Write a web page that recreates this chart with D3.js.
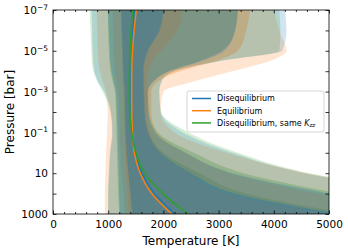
<!DOCTYPE html>
<html>
<head>
<meta charset="utf-8">
<script src="https://cdn.jsdelivr.net/npm/d3@7"></script>
<style>
    body { margin: 0; background: #fff; }
    svg text { font-family: 'DejaVu Sans', sans-serif; fill: #000; }
</style>
</head>
<body>
<svg id="chart" width="348" height="251"></svg>
<script>
// pressure levels [bar] shared by all profiles
var pressures = [1e-7, 1e-6, 1e-5, 3.16e-5, 1e-4, 3.16e-4, 1e-3, 1e-2, 1e-1, 1, 10, 100, 1000];

// Disequilibrium
var diseqMedian = [1470, 1450, 1430, 1425, 1420, 1418, 1418, 1422, 1440, 1490, 1610, 1840, 2210];
var diseqLo1 = [1240, 1250, 1265, 1270, 1280, 1290, 1300, 1310, 1320, 1340, 1370, 1400, 1430];
var diseqHi1 = [2000, 1930, 1720, 1660, 1640, 1640, 1650, 1660, 1720, 1950, 2500, 3300, 5200];
var diseqLo2 = [1000, 1010, 1030, 1040, 1060, 1100, 1140, 1160, 1170, 1180, 1190, 1200, 1210];
var diseqHi2 = [3350, 3300, 3100, 2700, 2100, 1820, 1720, 1730, 1850, 2400, 3250, 5000, 7000];
var diseqLo3 = [700, 710, 720, 730, 750, 820, 930, 1050, 1070, 1030, 1010, 1000, 1000];
var diseqHi3 = [4200, 4230, 4150, 3050, 2200, 1970, 1930, 1950, 2350, 3250, 4550, 6800, 9000];

// Equilibrium
var equilMedian = [1510, 1470, 1440, 1432, 1428, 1425, 1425, 1428, 1440, 1475, 1580, 1790, 2150];
var equilLo1 = [1250, 1255, 1265, 1270, 1275, 1285, 1295, 1300, 1300, 1310, 1330, 1350, 1380];
var equilHi1 = [2350, 2250, 1950, 1800, 1720, 1700, 1700, 1700, 1760, 1950, 2450, 3150, 5000];
var equilLo2 = [1080, 1090, 1100, 1110, 1120, 1150, 1180, 1200, 1210, 1220, 1240, 1280, 1300];
var equilHi2 = [3570, 3500, 3350, 2950, 2300, 1900, 1780, 1780, 1880, 2400, 3200, 4800, 6800];
var equilLo3 = [790, 800, 810, 820, 850, 900, 960, 990, 980, 960, 950, 940, 940];
var equilHi3 = [4000, 4100, 4230, 3930, 3250, 2550, 2000, 1950, 2200, 3150, 4600, 6800, 9000];

// Disequilibrium, same Kzz
var kzzMedian = [1440, 1415, 1395, 1388, 1383, 1380, 1380, 1390, 1425, 1500, 1660, 1990, 2450];
var kzzLo1 = [1230, 1240, 1250, 1255, 1260, 1270, 1280, 1290, 1300, 1320, 1360, 1410, 1460];
var kzzHi1 = [2000, 1900, 1700, 1640, 1620, 1620, 1630, 1650, 1730, 2000, 2650, 3500, 5400];
var kzzLo2 = [990, 1000, 1010, 1020, 1040, 1080, 1120, 1140, 1150, 1160, 1170, 1180, 1200];
var kzzHi2 = [3350, 3300, 3050, 2650, 2100, 1820, 1720, 1740, 1900, 2550, 3450, 5200, 7200];
var kzzLo3 = [665, 680, 695, 705, 730, 800, 900, 1040, 1080, 1040, 1020, 1000, 1000];
var kzzHi3 = [4100, 4120, 4100, 3000, 2180, 1960, 1920, 1960, 2450, 3350, 4650, 7000, 9000];

var xMajorTicks = [0, 1000, 2000, 3000, 4000, 5000];
var yDecades = [1e-7, 1e-6, 1e-5, 1e-4, 1e-3, 1e-2, 1e-1, 1, 10, 100, 1000];
var yTickLabels = { '1e-7': ['10', '\u22127'], '0.00001': ['10', '\u22125'], '0.001': ['10', '\u22123'],
    '0.1': ['10', '\u22121'], '10': ['10', ''], '1000': ['1000', ''] };

var models = [
    { name: 'Disequilibrium', color: '#1f77b4', median: diseqMedian,
      bands: [[diseqLo3, diseqHi3], [diseqLo2, diseqHi2], [diseqLo1, diseqHi1]] },
    { name: 'Equilibrium', color: '#ff7f0e', median: equilMedian,
      bands: [[equilLo3, equilHi3], [equilLo2, equilHi2], [equilLo1, equilHi1]] },
    { name: 'Disequilibrium, same ', color: '#2ca02c', median: kzzMedian, kzz: true,
      bands: [[kzzLo3, kzzHi3], [kzzLo2, kzzHi2], [kzzLo1, kzzHi1]] }
];

var plot = { left: 53, right: 329, top: 10, bottom: 214 };
var bandAlpha = [0.2, 0.3, 0.4];

var svg = d3.select('#chart');

var x = d3.scaleLinear().domain([0, 5000]).range([plot.left, plot.right]);
var y = d3.scaleLog().domain([1e-7, 1000]).range([plot.top, plot.bottom]);

svg.append('defs').append('clipPath')
    .attr('id', 'plot-clip')
    .append('rect')
    .attr('x', plot.left)
    .attr('y', plot.top)
    .attr('width', plot.right - plot.left)
    .attr('height', plot.bottom - plot.top);

var body = svg.append('g').attr('clip-path', 'url(#plot-clip)');

function bandArea(lo, hi) {
    return d3.area()
        .curve(d3.curveMonotoneY)
        .y(function(d, i) { return y(pressures[i]); })
        .x0(function(d, i) { return x(lo[i]); })
        .x1(function(d, i) { return x(hi[i]); });
}

// fills: drawn in reverse so the Disequilibrium bands end on top
models.slice().reverse().forEach(function(m) {
    m.bands.forEach(function(b, k) {
        body.append('path')
            .datum(pressures)
            .attr('d', bandArea(b[0], b[1]))
            .attr('fill', m.color)
            .attr('fill-opacity', bandAlpha[k])
            .attr('stroke', 'none');
    });
});

var line = function(vals) {
    return d3.line()
        .curve(d3.curveMonotoneY)
        .y(function(d, i) { return y(pressures[i]); })
        .x(function(d, i) { return x(vals[i]); });
};

models.forEach(function(m) {
    body.append('path')
        .datum(pressures)
        .attr('d', line(m.median))
        .attr('fill', 'none')
        .attr('stroke', m.color)
        .attr('stroke-width', 1.5);
});

// axes, ticks pointing inward on every side
var minorX = d3.range(0, 5001, 200).filter(function(v) { return v % 1000 !== 0; });

function styleAxis(g) {
    g.select('.domain').remove();
    g.selectAll('line').attr('stroke', '#000').attr('stroke-width', 0.8);
    g.selectAll('text').attr('font-size', 10.5).attr('font-family', 'DejaVu Sans');
}

svg.append('g')
    .attr('transform', 'translate(0,' + plot.bottom + ')')
    .call(d3.axisBottom(x).tickValues(xMajorTicks).tickFormat(d3.format('d'))
        .tickSizeInner(-3.5).tickSizeOuter(0).tickPadding(7))
    .call(styleAxis);

svg.append('g')
    .attr('transform', 'translate(0,' + plot.bottom + ')')
    .call(d3.axisBottom(x).tickValues(minorX).tickFormat('').tickSizeInner(-2).tickSizeOuter(0))
    .call(styleAxis);

svg.append('g')
    .attr('transform', 'translate(0,' + plot.top + ')')
    .call(d3.axisTop(x).tickValues(xMajorTicks).tickFormat('').tickSizeInner(-3.5).tickSizeOuter(0))
    .call(styleAxis);

svg.append('g')
    .attr('transform', 'translate(0,' + plot.top + ')')
    .call(d3.axisTop(x).tickValues(minorX).tickFormat('').tickSizeInner(-2).tickSizeOuter(0))
    .call(styleAxis);

svg.append('g')
    .attr('transform', 'translate(' + plot.right + ',0)')
    .call(d3.axisRight(y).tickValues(yDecades).tickFormat('').tickSizeInner(-3.5).tickSizeOuter(0))
    .call(styleAxis);

var yAxis = svg.append('g')
    .attr('transform', 'translate(' + plot.left + ',0)')
    .call(d3.axisLeft(y).tickValues(yDecades).tickFormat('').tickSizeInner(-3.5).tickSizeOuter(0).tickPadding(5))
    .call(styleAxis);

yAxis.selectAll('.tick text').each(function(d) {
    var lab = yTickLabels[String(d)];
    if (!lab) return;
    var t = d3.select(this).text(null).attr('dy', '0.35em');
    t.append('tspan').text(lab[0]);
    if (lab[1]) {
        t.append('tspan')
            .attr('font-size', 7.5)
            .attr('dy', '-0.55em')
            .text(lab[1]);
    }
});

svg.append('rect')
    .attr('x', plot.left)
    .attr('y', plot.top)
    .attr('width', plot.right - plot.left)
    .attr('height', plot.bottom - plot.top)
    .attr('fill', 'none')
    .attr('stroke', '#000')
    .attr('stroke-width', 0.8);

svg.append('text')
    .attr('x', (plot.left + plot.right) / 2)
    .attr('y', 245)
    .attr('text-anchor', 'middle')
    .attr('font-size', 12)
    .text('Temperature [K]');

svg.append('text')
    .attr('transform', 'translate(14,' + (plot.top + plot.bottom) / 2 + ') rotate(-90)')
    .attr('text-anchor', 'middle')
    .attr('font-size', 12)
    .text('Pressure [bar]');

// legend
var legend = svg.append('g').attr('transform', 'translate(187,91)');

legend.append('rect')
    .attr('width', 137)
    .attr('height', 41)
    .attr('rx', 2)
    .attr('fill', '#fff')
    .attr('fill-opacity', 0.8)
    .attr('stroke', '#ccc')
    .attr('stroke-width', 0.8);

models.forEach(function(m, i) {
    var ly = 7.5 + i * 12.2;
    legend.append('line')
        .attr('x1', 5)
        .attr('x2', 24)
        .attr('y1', ly)
        .attr('y2', ly)
        .attr('stroke', m.color)
        .attr('stroke-width', 1.5);
    var t = legend.append('text')
        .attr('x', 30)
        .attr('y', ly)
        .attr('dy', '0.35em')
        .attr('font-size', 8)
        .text(m.name);
    if (m.kzz) {
        t.append('tspan').attr('font-style', 'italic').text('K');
        t.append('tspan')
            .attr('font-style', 'italic')
            .attr('font-size', 5.5)
            .attr('dy', '0.3em')
            .text('zz');
    }
});
</script>
</body>
</html>
